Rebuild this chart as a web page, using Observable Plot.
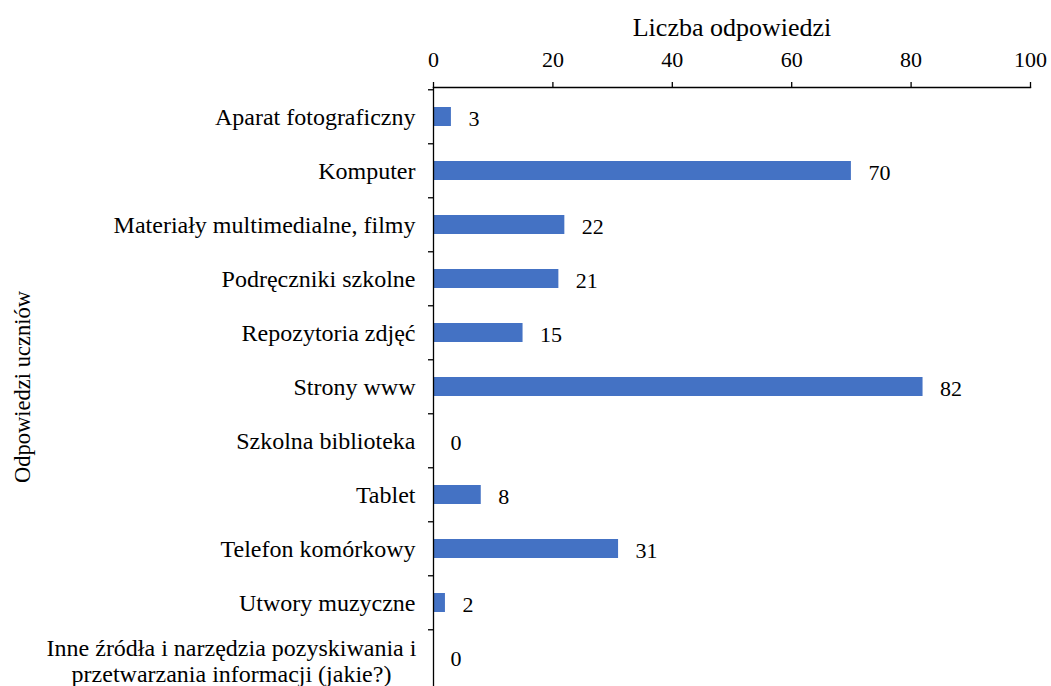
<!DOCTYPE html>
<html>
<head>
<meta charset="utf-8">
<script src="https://cdn.jsdelivr.net/npm/d3@7"></script>
<script src="https://cdn.jsdelivr.net/npm/@observablehq/plot@0.6"></script>
<style>
  html, body { margin: 0; padding: 0; background: #fff; }
  #chart { width: 1051px; height: 686px; overflow: hidden; }
</style>
</head>
<body>
<div id="chart"></div>
<script>
const categories = [
  "Aparat fotograficzny",
  "Komputer",
  "Materiały multimedialne, filmy",
  "Podręczniki szkolne",
  "Repozytoria zdjęć",
  "Strony www",
  "Szkolna biblioteka",
  "Tablet",
  "Telefon komórkowy",
  "Utwory muzyczne",
  "Inne źródła i narzędzia pozyskiwania i\nprzetwarzania informacji (jakie?)"
];
const values = [3, 70, 22, 21, 15, 82, 0, 8, 31, 2, 0];
const xTicks = [0, 20, 40, 60, 80, 100];
const xTitle = "Liczba odpowiedzi";
const yTitle = "Odpowiedzi uczniów";

const data = categories.map((c, i) => ({category: c, value: values[i]}));
const multiLine = categories.filter(c => c.includes("\n"));

const H = 686, MT = 87, MB = 0;
const step = (H - MT - MB) / categories.length;
const font = "'Liberation Serif', 'Times New Roman', serif";

const chart = Plot.plot({
  width: 1051,
  height: H,
  marginTop: MT,
  marginLeft: 433,
  marginRight: 21,
  marginBottom: MB,
  style: {fontFamily: font, fontSize: "24px", color: "#000", background: "#fff"},
  x: {domain: [0, 100], ticks: xTicks},
  y: {domain: categories, paddingInner: 0.65, paddingOuter: 0.325},
  marks: [
    Plot.barX(data, {x: "value", y: "category", fill: "#4472C4"}),
    Plot.frame({anchor: "top", stroke: "#000", strokeWidth: 1.3}),
    Plot.ruleX([0], {stroke: "#000", strokeWidth: 1.3}),
    Plot.axisX({anchor: "top", ticks: xTicks, tickSize: 6, tickPadding: 15, fontSize: 22, fontFamily: font, fontVariant: "normal", label: null, strokeWidth: 1.3}),
    Plot.axisY({anchor: "left", ticks: categories, tickSize: 5, tickFormat: () => "", dy: -step / 2, label: null, strokeWidth: 1.3}),
    Plot.axisY({anchor: "left", tickSize: 0, tickPadding: 18, fontSize: 24, fontFamily: font, label: null,
      tickFormat: d => d.includes("\n") ? "" : d}),
    Plot.text(multiLine, {x: () => 0, y: d => d, text: d => d, textAnchor: "middle", lineAnchor: "middle", dx: -202, dy: 4, fontSize: 24, fontFamily: font, lineHeight: 1.05}),
    Plot.text(data, {x: "value", y: "category", text: d => String(d.value), textAnchor: "start", dx: 17, dy: 2, fontSize: 22, fontFamily: font}),
    Plot.text([xTitle], {frameAnchor: "top", text: d => d, textAnchor: "middle", dy: -60, fontSize: 26, fontFamily: font, lineAnchor: "middle"}),
    Plot.text([yTitle], {frameAnchor: "left", text: d => d, textAnchor: "middle", rotate: -90, dx: -411, fontSize: 22.5, fontFamily: font, lineAnchor: "middle"})
  ]
});
document.getElementById("chart").appendChild(chart);
</script>
</body>
</html>
